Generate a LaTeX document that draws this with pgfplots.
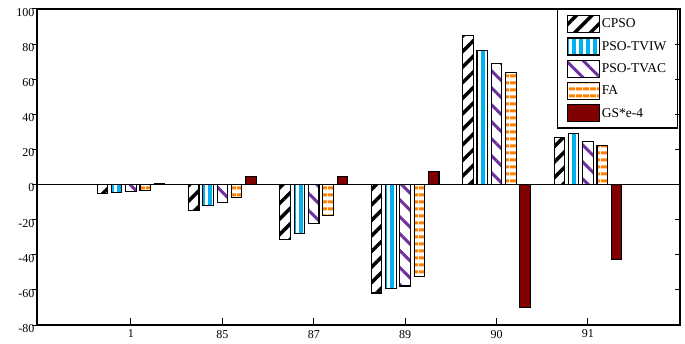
\documentclass[border=0pt]{standalone}
\usepackage{fontspec}
\setmainfont{Liberation Serif}
\usepackage{pgfplots}
\usepackage{pgfplotstable}
\pgfplotsset{compat=1.18}
\usetikzlibrary{patterns.meta}
\definecolor{cyanb}{RGB}{0,176,240}
\definecolor{purp}{RGB}{112,48,160}
\definecolor{orng}{RGB}{255,128,0}
\definecolor{maroonc}{RGB}{128,0,0}

\pgfplotstableread{
x CPSO TVIW TVAC FA GS
0 -5.2 -4.6 -4.0 -3.4 0.4
1 -14.7 -11.7 -10.0 -7.5 4.6
2 -31.3 -27.8 -22.0 -17.4 4.8
3 -61.8 -59.2 -57.8 -52.5 7.3
4 85.0 76.2 69.2 64.0 -69.8
5 26.8 29.3 24.5 22.0 -42.6
}\datatable

\begin{document}
\begin{tikzpicture}
\useasboundingbox (0,0) rectangle (685pt,343pt);
\begin{axis}[
  at={(37pt,18pt)}, anchor=south west,
  scale only axis, width=643pt, height=316pt,
  xmin=-1.028, xmax=6.007, ymin=-80, ymax=100,
  ybar=3.8pt, bar width=10.5pt,
  xtick={0,...,5}, xticklabels={1,85,87,89,90,91},
  ytick={-80,-60,...,100},
  yticklabels={-80,-60,-40,-20,0,20,40,60,80,100},
  tick pos=left, tick align=inside,
  major tick length=7pt,
  ytick style={/pgfplots/major tick length=5pt, xshift=-5pt},
  tick style={black, line width=1pt},
  axis line style={line width=1.3pt},
  ticklabel style={font=\fontsize{12}{14}\selectfont},
  yticklabel style={yshift=-3.5pt, xshift=1pt},
  xticklabel style={yshift=-1.5pt},
  legend style={at={(0.997,1)}, anchor=north east, draw=black, line width=1.3pt,
    font=\fontsize{13.5}{15}\selectfont, cells={anchor=west}, row sep=4.2pt,
    inner xsep=9pt, inner ysep=5.5pt},
  legend image code/.code={\draw[#1] (0pt,-8.5pt) rectangle (32pt,8.5pt);},
]
\addplot[draw=black, line width=1.1pt, pattern={Lines[angle=45,distance=11pt,line width=3.5pt]}, pattern color=black] table[x=x,y=CPSO]{\datatable};
\addplot[draw=black, line width=1.1pt, pattern={Lines[angle=90,distance=7pt,line width=3.5pt]}, pattern color=cyanb] table[x=x,y=TVIW]{\datatable};
\addplot[draw=black, line width=1.1pt, pattern={Lines[angle=-45,distance=12pt,line width=3pt]}, pattern color=purp] table[x=x,y=TVAC]{\datatable};
\addplot[draw=black, line width=1.1pt, pattern={Lines[angle=0,distance=6.5pt,line width=3.2pt]}, pattern color=orng] table[x=x,y=FA]{\datatable};
\addplot[draw=black, line width=1.1pt, fill=maroonc] table[x=x,y=GS]{\datatable};
\legend{CPSO,PSO-TVIW,PSO-TVAC,FA,GS*e-4}
\draw[line width=1.2pt] (axis cs:-1.028,0) -- (axis cs:6.007,0);
\end{axis}
\begin{axis}[
  at={(37pt,18pt)}, anchor=south west,
  scale only axis, width=643pt, height=316pt,
  xmin=-1.028, xmax=6.007, ymin=-80, ymax=100,
  xtick=\empty, ytick={-80,-60,...,100}, yticklabels={},
  tick pos=right, tick align=inside, major tick length=5pt,
  tick style={black, line width=1pt},
  axis line style={line width=1.3pt},
]
\end{axis}
\end{tikzpicture}
\end{document}
